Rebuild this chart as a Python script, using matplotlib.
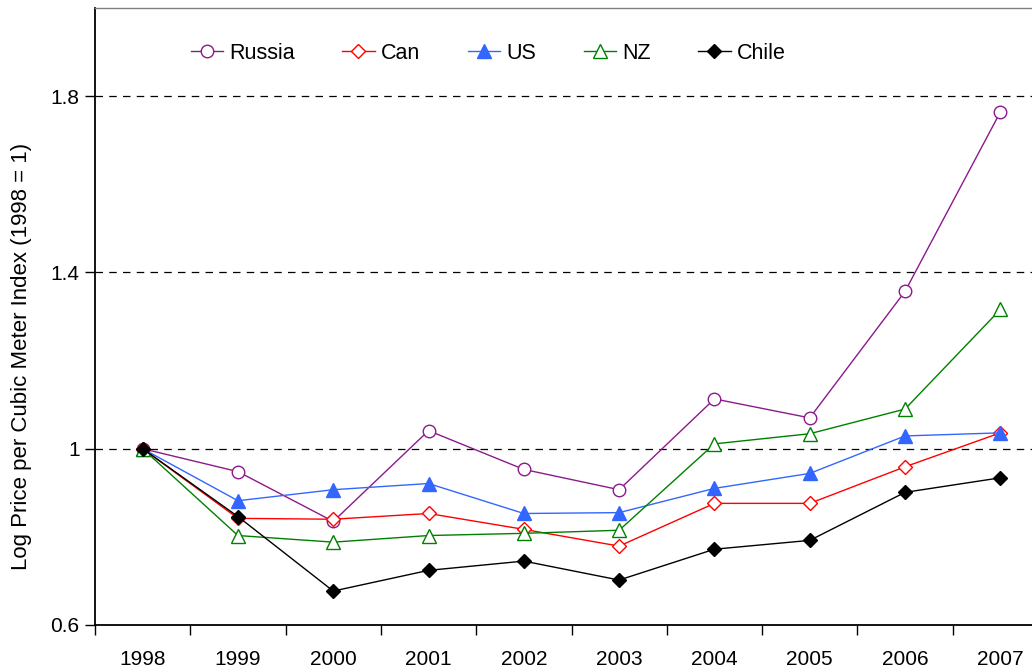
import numpy as np
import matplotlib
matplotlib.use('Agg')
import matplotlib.pyplot as plt
from matplotlib.ticker import FixedLocator, NullFormatter

plt.rcParams['font.family'] = ['Liberation Sans', 'DejaVu Sans']

# dados
anos = ['1998', '1999', '2000', '2001', '2002', '2003', '2004', '2005', '2006', '2007']
russia = [1.0, 0.948, 0.835, 1.041, 0.953, 0.907, 1.113, 1.070, 1.357, 1.764]
can = [1.0, 0.842, 0.840, 0.853, 0.817, 0.779, 0.876, 0.876, 0.959, 1.036]
us = [1.0, 0.882, 0.907, 0.921, 0.853, 0.855, 0.910, 0.944, 1.029, 1.036]
nz = [1.0, 0.803, 0.788, 0.803, 0.808, 0.815, 1.011, 1.034, 1.090, 1.316]
chile = [1.0, 0.846, 0.677, 0.724, 0.745, 0.702, 0.772, 0.792, 0.901, 0.934]

x = np.arange(len(anos))

fig = plt.figure(figsize=(10.32, 6.68), dpi=100)
ax = fig.add_axes([95 / 1032, 43 / 668, 953 / 1032, 617 / 668])

ax.plot(x, russia, color='#8B1A8B', lw=1, marker='o', ms=9, mfc='white', mec='#8B1A8B', label='Russia')
ax.plot(x, can, color='#FF0000', lw=1, marker='D', ms=7.5, mfc='white', mec='#FF0000', label='Can')
ax.plot(x, us, color='#3366FF', lw=1, marker='^', ms=9.5, mfc='#3366FF', mec='#3366FF', label='US')
ax.plot(x, nz, color='#008000', lw=1, marker='^', ms=9.5, mfc='white', mec='#008000', label='NZ')
ax.plot(x, chile, color='#000000', lw=1, marker='D', ms=7.5, mfc='#000000', mec='#000000', label='Chile')

# grade tracejada
for v in [1.0, 1.4, 1.8]:
    ax.axhline(v, color='black', lw=0.9, ls=(0, (6, 5)), zorder=0)

ax.set_xlim(-0.5, len(anos) - 0.5)
ax.set_ylim(0.6, 2.0)
ax.set_yticks([0.6, 1.0, 1.4, 1.8])
ax.set_yticklabels(['0.6', '1', '1.4', '1.8'])

# ticks nas fronteiras das categorias, rótulos no centro
ax.xaxis.set_major_locator(FixedLocator(np.arange(-0.5, len(anos), 1.0)))
ax.xaxis.set_major_formatter(NullFormatter())
ax.set_xticks(x, minor=True)
ax.set_xticklabels(anos, minor=True)
ax.tick_params(axis='x', which='major', length=7, width=1, direction='out')
ax.tick_params(axis='x', which='minor', length=0, pad=18, labelsize=15)
ax.tick_params(axis='y', length=7, width=1, direction='out', labelsize=15, pad=4)

ax.spines['left'].set_linewidth(1.3)
ax.spines['bottom'].set_linewidth(1.3)
ax.spines['top'].set_color('#808080')
ax.spines['top'].set_linewidth(1)
ax.spines['right'].set_visible(False)

ax.set_ylabel('Log Price per Cubic Meter Index (1998 = 1)', fontsize=16)
ax.yaxis.set_label_coords(-0.066, 0.436)

ax.legend(loc='upper left', bbox_to_anchor=(0.080, 0.975), ncol=5, frameon=False,
          fontsize=15.5, handlelength=1.5, handletextpad=0.3, columnspacing=2.2)

fig.savefig('out.png', dpi=100)
